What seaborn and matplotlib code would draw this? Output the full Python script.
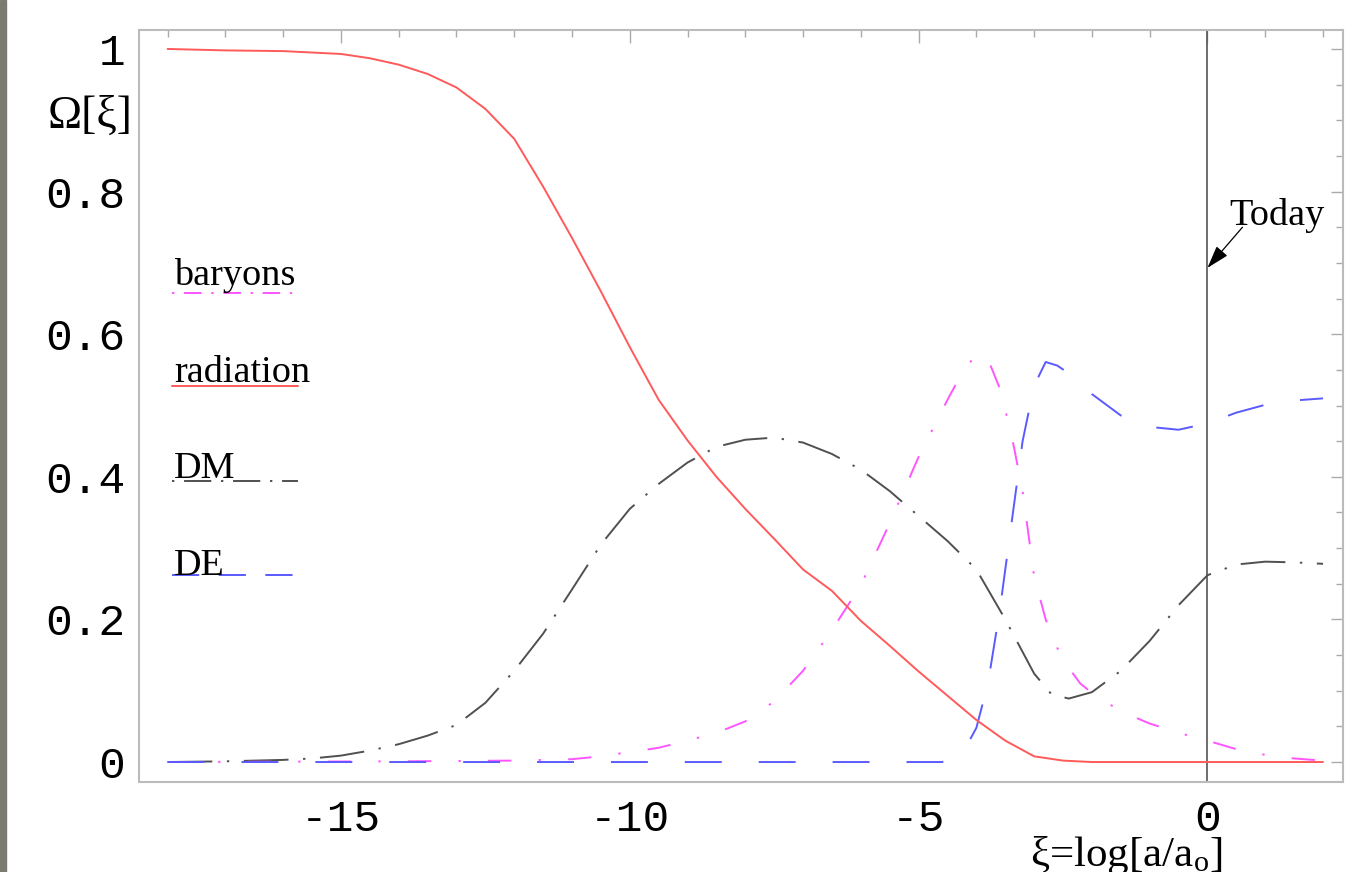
import matplotlib
matplotlib.use("Agg")
import matplotlib.pyplot as plt
from matplotlib.patches import Rectangle
from matplotlib.ticker import MultipleLocator, FixedLocator
import seaborn as sns
import numpy as np

# ---------------- data ----------------
rad_x = [-18, -17, -16, -15, -14.5, -14, -13.5, -13, -12.5, -12, -11.5, -11, -10.5, -10,
         -9.5, -9, -8.5, -8, -7.5, -7, -6.5, -6, -5.5, -5, -4.5, -4, -3.5, -3, -2.5,
         -2, -1, 0, 1, 2]
rad_y = [1.0, 0.998, 0.997, 0.993, 0.987, 0.978, 0.965, 0.946, 0.916, 0.874, 0.807, 0.735,
         0.66, 0.582, 0.508, 0.451, 0.40, 0.355, 0.313, 0.27, 0.24, 0.198, 0.163, 0.127,
         0.093, 0.059, 0.03, 0.008, 0.002, 0.0, 0.0, 0.0, 0.0, 0.0]

dm_x = [-18, -17, -16, -15.5, -15, -14.5, -14, -13.5, -13, -12.5, -12, -11.5, -11, -10.5,
        -10, -9.5, -9, -8.5, -8, -7.5, -7, -6.5, -6, -5.5, -5, -4.5, -4, -3.5, -3, -2.7,
        -2.4, -2, -1.5, -1, -0.5, 0, 0.5, 1, 1.5, 2]
dm_y = [0.0, 0.001, 0.003, 0.005, 0.009, 0.016, 0.025, 0.037, 0.052, 0.083, 0.128, 0.18,
        0.242, 0.305, 0.355, 0.39, 0.42, 0.442, 0.452, 0.455, 0.448, 0.432, 0.41, 0.38,
        0.345, 0.31, 0.27, 0.20, 0.124, 0.095, 0.089, 0.098, 0.128, 0.17, 0.22, 0.262,
        0.277, 0.281, 0.28, 0.278]

bar_x = [-18, -16, -14, -12, -11, -10.5, -10, -9.5, -9, -8.5, -8, -7.5, -7, -6.5, -6, -5.5,
         -5, -4.5, -4.2, -4, -3.9, -3.8, -3.6, -3.4, -3.2, -3, -2.8, -2.6, -2.4, -2.2, -2,
         -1.5, -1, -0.5, 0, 0.5, 1, 1.5, 2]
bar_y = [0.0, 0.0005, 0.001, 0.002, 0.004, 0.008, 0.014, 0.02, 0.03, 0.041, 0.057, 0.085,
         0.128, 0.185, 0.248, 0.335, 0.428, 0.508, 0.553, 0.57, 0.572, 0.565, 0.525, 0.462,
         0.38, 0.26, 0.20, 0.16, 0.132, 0.11, 0.097, 0.071, 0.054, 0.041, 0.03, 0.018,
         0.01, 0.005, 0.002]

de_x = [-18, -4.6, -4.4, -4.2, -4.0, -3.8, -3.6, -3.4, -3.2, -3.0, -2.8, -2.6, -2.4, -2.2,
        -2.0, -1.5, -1, -0.5, 0, 0.5, 1, 1.5, 2]
de_y = [0.0, 0.0, 0.004, 0.018, 0.048, 0.11, 0.21, 0.33, 0.45, 0.528, 0.561, 0.556, 0.545,
        0.532, 0.516, 0.486, 0.47, 0.466, 0.475, 0.49, 0.501, 0.507, 0.51]

series_names = ["baryons", "radiation", "DM", "DE"]
x_ticks = [-15, -10, -5, 0]
x_tick_labels = ["-15", "-10", "-5", "0"]
y_ticks = [0, 0.2, 0.4, 0.6, 0.8, 1]
y_tick_labels = ["0", "0.2", "0.4", "0.6", "0.8", "1"]
today_x = 0

# ---------------- style ----------------
sns.set_theme(style="white")
plt.rcParams["font.family"] = ["Liberation Serif", "DejaVu Serif"]
plt.rcParams["text.color"] = "black"
plt.rcParams["mathtext.fontset"] = "custom"
plt.rcParams["mathtext.rm"] = "Liberation Serif"
plt.rcParams["mathtext.it"] = "Liberation Serif:italic"

W, H = 1361, 872
fig = plt.figure(figsize=(W / 100, H / 100), dpi=100)
fig.patch.set_facecolor("white")
ax = fig.add_axes([139 / W, (H - 782) / H, (1343 - 139) / W, (782 - 30) / H])

LW = 1.4
colors = {"baryons": "#ff55ff", "radiation": "#ff5a5a", "DM": "#505050", "DE": "#5a5aff"}
styles = {"baryons": (0, (12, 14, 1.2, 14)),
          "radiation": "-",
          "DM": (0, (23, 7.5, 1.2, 7.5)),
          "DE": (0, (19, 19))}
legend_styles = {"baryons": (0, (1.2, 5, 9, 5)),
                 "radiation": "-",
                 "DM": (0, (1.2, 5, 14, 5)),
                 "DE": (0, (14, 10))}
data = {"baryons": (bar_x, bar_y), "radiation": (rad_x, rad_y),
        "DM": (dm_x, dm_y), "DE": (de_x, de_y)}

for name in ["DM", "baryons", "DE", "radiation"]:
    xs, ys = data[name]
    sns.lineplot(x=xs, y=ys, ax=ax, color=colors[name], lw=LW, estimator=None, sort=False)
    ax.get_lines()[-1].set_linestyle(styles[name])

ax.axvline(today_x, color="#555555", lw=1.2, zorder=1)

ax.set_xlim(-18.495, 2.346)
ax.set_ylim(-0.028, 1.0266)

for s in ax.spines.values():
    s.set_color("#bbbbbb")
    s.set_linewidth(1.5)

ax.xaxis.set_major_locator(FixedLocator(x_ticks))
ax.xaxis.set_minor_locator(MultipleLocator(1))
ax.yaxis.set_major_locator(FixedLocator(y_ticks))
ax.yaxis.set_minor_locator(MultipleLocator(0.05))
ax.set_xticklabels(x_tick_labels)
ax.set_yticklabels(y_tick_labels)
ax.tick_params(which="both", direction="in", top=True, right=True,
               color="#aaaaaa", width=1.0)
ax.tick_params(which="major", length=9)
ax.tick_params(which="minor", length=5)
ax.tick_params(axis="y", which="major", pad=10)
ax.tick_params(axis="x", which="major", pad=12)
for lab in ax.get_yticklabels() + ax.get_xticklabels():
    lab.set_fontfamily("Liberation Mono")
    lab.set_fontsize(32)
    lab.set_color("black")

# legend (text with line samples underneath)
leg_text_y = {"baryons": 0.661, "radiation": 0.532, "DM": 0.404, "DE": 0.275}
leg_line_y = {"baryons": 0.650, "radiation": 0.527, "DM": 0.400, "DE": 0.275}
for name in series_names:
    ax.text(0.029, leg_text_y[name], name, transform=ax.transAxes, fontsize=27.5,
            va="baseline", ha="left", color="black")
    ax.plot([0.027, 0.132], [leg_line_y[name]] * 2, transform=ax.transAxes,
            color=colors[name], lw=LW, linestyle=legend_styles[name], clip_on=False)

# Today annotation
ax.text(0.38, 0.753, "Today", fontsize=27.5, va="baseline", ha="left", color="black")
ax.annotate("", xy=(today_x, 0.693), xytext=(0.606, 0.750),
            arrowprops=dict(arrowstyle="-|>,head_length=0.7,head_width=0.22",
                            color="black", lw=0.9, mutation_scale=20,
                            shrinkA=0, shrinkB=0))

# axis labels
fig.text(132 / W, (H - 128) / H, "Ω[ξ]", fontsize=33, ha="right", va="baseline",
         color="black")
fig.text(1222 / W, (H - 866) / H, r"ξ=log[a/a$_{\mathrm{o}}$]", fontsize=31,
         ha="right", va="baseline", color="black")

# dark bar at the left edge
fig.patches.append(Rectangle((0, 0), 6 / W, 1, transform=fig.transFigure,
                             color="#7b7b6f", zorder=-1))

fig.savefig("out.png", dpi=100)
